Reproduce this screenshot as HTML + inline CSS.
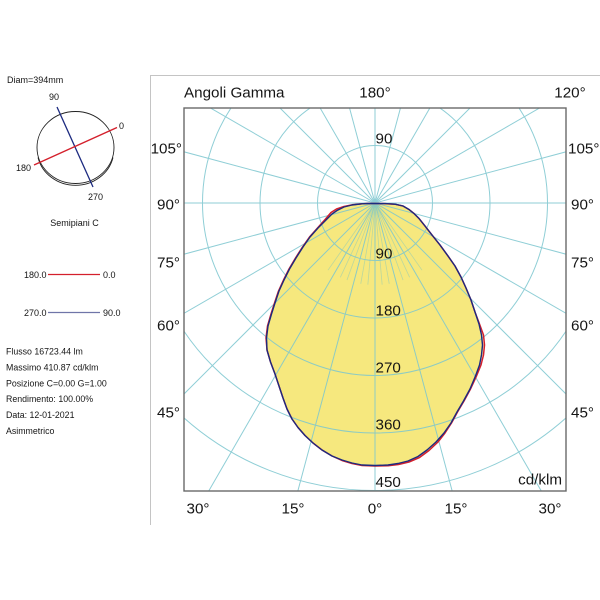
<!DOCTYPE html>
<html>
<head>
<meta charset="utf-8">
<style>
  html, body { margin:0; padding:0; background:#fff; width:600px; height:600px; overflow:hidden; }
  svg { display:block; }
  text { font-family: "Liberation Sans", Arial, sans-serif; fill:#151515; }
</style>
</head>
<body>
<svg width="600" height="600" viewBox="0 0 600 600" xmlns="http://www.w3.org/2000/svg">
  <defs>
    <clipPath id="plot">
      <rect x="184" y="108" width="382" height="383"/>
    </clipPath>
  </defs>

  <!-- outer frame -->
  <line x1="150" y1="75.5" x2="600" y2="75.5" stroke="#c4c4c4" stroke-width="1"/>
  <line x1="150.5" y1="75" x2="150.5" y2="525" stroke="#c4c4c4" stroke-width="1"/>

  <!-- ===== Left panel ===== -->
  <text x="7" y="83" font-size="9">Diam=394mm</text>
  <ellipse cx="75.5" cy="147.5" rx="38.5" ry="36" fill="none" stroke="#222" stroke-width="0.9"/>
  <path d="M 38 154 A 38.5 36 0 0 0 113 154" fill="none" stroke="#222" stroke-width="0.9" transform="translate(0,3.5)"/>
  <line x1="57" y1="107" x2="93" y2="187" stroke="#1c2a80" stroke-width="1.3"/>
  <line x1="34" y1="165" x2="117" y2="127.5" stroke="#d4202c" stroke-width="1.4"/>
  <text x="49" y="100" font-size="9">90</text>
  <text x="119" y="129" font-size="9">0</text>
  <text x="16" y="171" font-size="9">180</text>
  <text x="88" y="200" font-size="9">270</text>
  <text x="74.5" y="226" font-size="9" text-anchor="middle">Semipiani C</text>

  <text x="24" y="278" font-size="9">180.0</text>
  <line x1="48" y1="274.5" x2="100" y2="274.5" stroke="#d4202c" stroke-width="1.2"/>
  <text x="103" y="278" font-size="9">0.0</text>

  <text x="24" y="316" font-size="9">270.0</text>
  <line x1="48" y1="312.5" x2="100" y2="312.5" stroke="#6f75a8" stroke-width="1.2"/>
  <text x="103" y="316" font-size="9">90.0</text>

  <text x="6" y="354.3" font-size="8.8">Flusso 16723.44  lm</text>
  <text x="6" y="370.5" font-size="8.8">Massimo 410.87  cd/klm</text>
  <text x="6" y="386.5" font-size="8.8">Posizione C=0.00 G=1.00</text>
  <text x="6" y="402" font-size="8.8">Rendimento: 100.00%</text>
  <text x="6" y="418" font-size="8.8">Data: 12-01-2021</text>
  <text x="6" y="434" font-size="8.8">Asimmetrico</text>

  <!-- ===== Polar chart ===== -->
  <g clip-path="url(#plot)">
    <!-- fill -->
    <polygon fill="#f6e87e" stroke="none" points="375,203.5 385,203.6 395,204.2 403,206 409,209.5 414,213.5 419,218.5 425,226 432,235 440,245 448,256 455,266 461,277 466,288 471,300 475,312 479,324 482.5,335 483.5,345 482.5,355 480,365 475.5,376 470,389 463.5,401 457,412 451,423 444,433 437,442 428,450.5 418.5,457 408.5,461.5 398,464 388,465 375,465.5 362,465 352,463 342,460 332,456 322,450 313,443 305,435.5 298,427.5 292,419 287,409 283,398 279,386 275,374 270.5,362 267,350 266.5,338 268,326 271.5,314 275,303 279,291 284,280 289.5,269 296,258 303,247 310,237 318,228 326,219.5 331.5,213.5 336.5,210 344,207 352,205 362,203.8 368,203.5"/>

    <!-- grid -->
    <g stroke="#7cc6cf" stroke-width="1" fill="none" opacity="0.85">
      <circle cx="375" cy="203" r="57.5"/>
      <circle cx="375" cy="203" r="115"/>
      <circle cx="375" cy="203" r="172.5"/>
      <circle cx="375" cy="203" r="230"/>
      <circle cx="375" cy="203" r="287.5"/>
      <circle cx="375" cy="203" r="345"/>
      <line x1="375" y1="203" x2="375" y2="560" transform="rotate(0 375 203)"/>
      <line x1="375" y1="203" x2="375" y2="560" transform="rotate(15 375 203)"/>
      <line x1="375" y1="203" x2="375" y2="560" transform="rotate(30 375 203)"/>
      <line x1="375" y1="203" x2="375" y2="560" transform="rotate(45 375 203)"/>
      <line x1="375" y1="203" x2="375" y2="560" transform="rotate(60 375 203)"/>
      <line x1="375" y1="203" x2="375" y2="560" transform="rotate(75 375 203)"/>
      <line x1="375" y1="203" x2="375" y2="560" transform="rotate(90 375 203)"/>
      <line x1="375" y1="203" x2="375" y2="560" transform="rotate(105 375 203)"/>
      <line x1="375" y1="203" x2="375" y2="560" transform="rotate(120 375 203)"/>
      <line x1="375" y1="203" x2="375" y2="560" transform="rotate(135 375 203)"/>
      <line x1="375" y1="203" x2="375" y2="560" transform="rotate(150 375 203)"/>
      <line x1="375" y1="203" x2="375" y2="560" transform="rotate(165 375 203)"/>
      <line x1="375" y1="203" x2="375" y2="560" transform="rotate(180 375 203)"/>
      <line x1="375" y1="203" x2="375" y2="560" transform="rotate(195 375 203)"/>
      <line x1="375" y1="203" x2="375" y2="560" transform="rotate(210 375 203)"/>
      <line x1="375" y1="203" x2="375" y2="560" transform="rotate(225 375 203)"/>
      <line x1="375" y1="203" x2="375" y2="560" transform="rotate(240 375 203)"/>
      <line x1="375" y1="203" x2="375" y2="560" transform="rotate(255 375 203)"/>
      <line x1="375" y1="203" x2="375" y2="560" transform="rotate(270 375 203)"/>
      <line x1="375" y1="203" x2="375" y2="560" transform="rotate(285 375 203)"/>
      <line x1="375" y1="203" x2="375" y2="560" transform="rotate(300 375 203)"/>
      <line x1="375" y1="203" x2="375" y2="560" transform="rotate(315 375 203)"/>
      <line x1="375" y1="203" x2="375" y2="560" transform="rotate(330 375 203)"/>
      <line x1="375" y1="203" x2="375" y2="560" transform="rotate(345 375 203)"/>
    </g>
    <!-- denser short lines near centre (inside fill) -->
    <g stroke="#8ccab8" stroke-width="0.8" opacity="0.55">
      <line x1="375" y1="203" x2="375" y2="285" transform="rotate(5 375 203)"/>
      <line x1="375" y1="203" x2="375" y2="285" transform="rotate(10 375 203)"/>
      <line x1="375" y1="203" x2="375" y2="285" transform="rotate(20 375 203)"/>
      <line x1="375" y1="203" x2="375" y2="285" transform="rotate(25 375 203)"/>
      <line x1="375" y1="203" x2="375" y2="285" transform="rotate(35 375 203)"/>
      <line x1="375" y1="203" x2="375" y2="285" transform="rotate(-5 375 203)"/>
      <line x1="375" y1="203" x2="375" y2="285" transform="rotate(-10 375 203)"/>
      <line x1="375" y1="203" x2="375" y2="285" transform="rotate(-20 375 203)"/>
      <line x1="375" y1="203" x2="375" y2="285" transform="rotate(-25 375 203)"/>
      <line x1="375" y1="203" x2="375" y2="285" transform="rotate(-35 375 203)"/>
    </g>

    <!-- red curve (C0-180) -->
    <polyline fill="none" stroke="#d4202c" stroke-width="1.5" stroke-linejoin="round" points="375,203.5 385,203.6 395,204.2 403,206 409,209.5 414,213.5 419,218.5 425,226 432,235 440,245 448,256 455,266 461,277 466,288 471,300 475,312 479.5,324 483.5,335 484.5,345 483.5,355 481,365 476.5,376 470.5,389 464,401 457.5,412 451.5,423 445,433 438,442 429,450.5 419.5,457.5 409,462 398.5,464.5 388,465.8 375,466 362,465.5 352,463.5 342,460.5 332,456 322,450 313,443 305,435.5 298,427.5 292,419 287,409 283,398 279,386 275,374 270.5,362 267,350 266,338 267.5,326 271,314 274.5,303 278.5,291 283.5,280 289,269 295.5,258 302.5,247 309.5,237 317.5,228 325.5,219 331,212.5 336.5,209 344,206.5 352,204.8 362,203.7 368,203.5 375,203.5"/>
    <!-- blue curve (C90-270) -->
    <polyline fill="none" stroke="#1c2a80" stroke-width="1.4" stroke-linejoin="round" points="375,203.5 385,203.6 395,204.2 403,206 409,209.5 414,213.5 419,218.5 425,226 432,235 440,245 448,256 455,266 461,277 466,288 471,300 475,312 479,324 481.5,335 482.5,345 481.5,355 479.5,365 475.5,376 470,389 463.5,401 457,412 451,423 444,433 436,442 427,450 418,456.5 408,461 398,463.5 388,465 375,465.5 362,465 352,463 342,460 332,456 322,450 313,443 305,435.5 298,427.5 292,419 287,409 283,398 279,386 275,374 270.5,362 267,350 266.5,338 268,326 271.5,314 275,303 279,291 284,280 289.5,269 296,258 303,247 310,237 318,228 326,220 332,214 337,210.5 344,207 352,205 362,203.8 368,203.5 375,203.5"/>
  </g>

  <!-- plot box -->
  <rect x="184" y="108" width="382" height="383" fill="none" stroke="#6a6a6a" stroke-width="1.4"/>

  <!-- top labels -->
  <text x="184" y="97.5" font-size="15.2">Angoli Gamma</text>
  <text x="375" y="97.5" font-size="15.2" text-anchor="middle">180°</text>
  <text x="570" y="97.5" font-size="15.2" text-anchor="middle">120°</text>

  <!-- left labels -->
  <text x="182" y="153.5" font-size="15.2" text-anchor="end">105°</text>
  <text x="180" y="209.5" font-size="15.2" text-anchor="end">90°</text>
  <text x="180" y="267.5" font-size="15.2" text-anchor="end">75°</text>
  <text x="180" y="330.5" font-size="15.2" text-anchor="end">60°</text>
  <text x="180" y="417.5" font-size="15.2" text-anchor="end">45°</text>

  <!-- right labels -->
  <text x="568" y="153.5" font-size="15.2">105°</text>
  <text x="571" y="209.5" font-size="15.2">90°</text>
  <text x="571" y="267.5" font-size="15.2">75°</text>
  <text x="571" y="330.5" font-size="15.2">60°</text>
  <text x="571" y="417.5" font-size="15.2">45°</text>

  <!-- bottom labels -->
  <text x="198" y="513.5" font-size="15.2" text-anchor="middle">30°</text>
  <text x="293" y="513.5" font-size="15.2" text-anchor="middle">15°</text>
  <text x="375" y="513.5" font-size="15.2" text-anchor="middle">0°</text>
  <text x="456" y="513.5" font-size="15.2" text-anchor="middle">15°</text>
  <text x="550" y="513.5" font-size="15.2" text-anchor="middle">30°</text>

  <!-- ring labels -->
  <text x="375.5" y="143.5" font-size="15.2">90</text>
  <text x="375.5" y="258.5" font-size="15.2">90</text>
  <text x="375.5" y="315.5" font-size="15.2">180</text>
  <text x="375.5" y="372.5" font-size="15.2">270</text>
  <text x="375.5" y="429.5" font-size="15.2">360</text>
  <text x="375.5" y="487" font-size="15.2">450</text>
  <text x="562" y="484.5" font-size="15.2" text-anchor="end">cd/klm</text>
</svg>
</body>
</html>
